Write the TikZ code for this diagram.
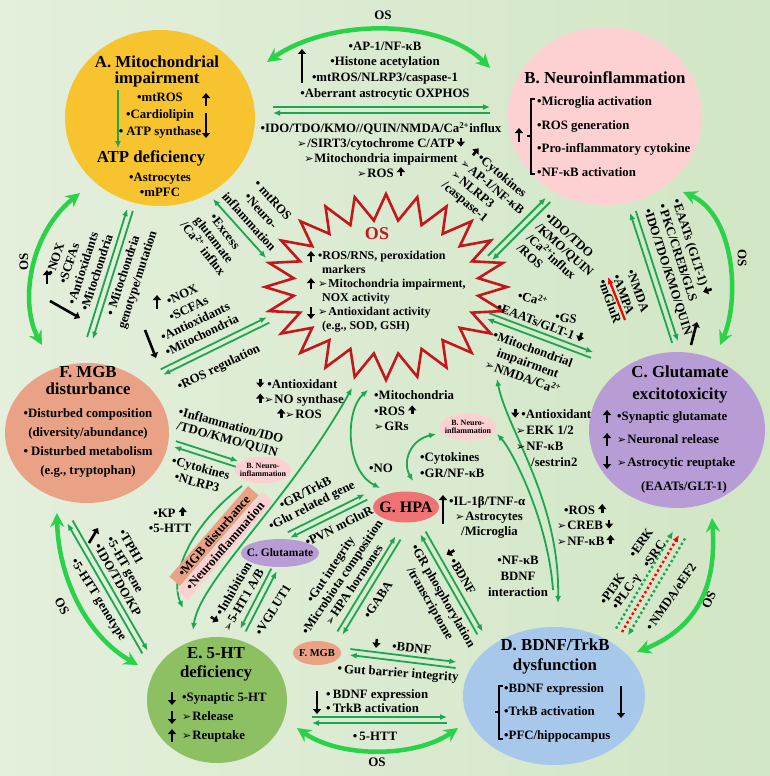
\documentclass[tikz,border=0pt]{standalone}
\usepackage{fontspec}
\setmainfont{Liberation Serif}
\newfontfamily\symfont{DejaVu Sans}
\usetikzlibrary{arrows.meta,calc,positioning,shapes.geometric}

\definecolor{bgl}{HTML}{E4EFDC}
\definecolor{bgr}{HTML}{D1E6C5}
\definecolor{osgreen}{HTML}{2AD24A}
\definecolor{lkgreen}{HTML}{1CA651}
\definecolor{mitoY}{HTML}{F7C42F}
\definecolor{neuroP}{HTML}{FDD0D1}
\definecolor{gluV}{HTML}{B89CD6}
\definecolor{bdnfB}{HTML}{A7C7EB}
\definecolor{htG}{HTML}{8DC063}
\definecolor{mgbS}{HTML}{E9A285}
\definecolor{hpaR}{HTML}{F07373}
\definecolor{starR}{HTML}{C4161C}

\tikzset{
  txt/.style={font=\bfseries\fontsize{12.8}{#1}\selectfont, inner sep=0pt, align=center},
  txt/.default=15,
  ttl/.style={font=\bfseries\fontsize{16.8}{#1}\selectfont, inner sep=0pt, align=center},
  ttl/.default=17,
  smalltxt/.style={font=\bfseries\fontsize{8}{8.6}\selectfont, inner sep=0pt, align=center},
  oslabel/.style={font=\bfseries\fontsize{13}{13}\selectfont, inner sep=0pt},
  hub/.style={ellipse, inner sep=0pt},
  os/.style={draw=osgreen, line width=4.5pt, arrows={Stealth[length=14pt,width=14pt]-Stealth[length=14pt,width=14pt]}},
  lk/.style={draw=lkgreen, line width=1.8pt},
  fwdtip/.style={-{Latex[length=7pt,width=6pt]}},
  twotip/.style={{Latex[length=7pt,width=6pt]}-{Latex[length=7pt,width=6pt]}},
  blk/.style={draw=black, line width=2.6pt, -{Triangle[length=5pt,width=8pt]}},
  dotline/.style={line width=2.4pt, dash pattern=on 2.4pt off 2.6pt},
}

\newcommand{\uparr}[1][9pt]{\tikz[baseline=-1pt]\draw[blk](0pt,0pt)--(0pt,#1);}
\newcommand{\dnarr}[1][9pt]{\tikz[baseline=-1pt]\draw[blk](0pt,#1)--(0pt,0pt);}
\newcommand{\arrbul}{{\symfont\fontsize{11}{11}\selectfont ➢}\kern1pt}
% two parallel links, one each way
\newcommand{\pairlink}[2]{%
  \draw[lk,fwdtip] ($(#1)!3pt!90:(#2)$) -- ($(#2)!3pt!-90:(#1)$);
  \draw[lk,fwdtip] ($(#2)!3pt!90:(#1)$) -- ($(#1)!3pt!-90:(#2)$);}
\newcommand{\pairlinkb}[2]{%
  \draw[lk,fwdtip] ($(#1)!3pt!-90:(#2)$) -- ($(#2)!3pt!90:(#1)$);
  \draw[lk,fwdtip] ($(#2)!3pt!-90:(#1)$) -- ($(#1)!3pt!90:(#2)$);}

\begin{document}
\begin{tikzpicture}[x=1pt,y=-1pt]
\useasboundingbox (0,0) rectangle (770,776);
\shade[left color=bgl,right color=bgr] (0,0) rectangle (770,776);

% hubs
\node[hub,fill=mitoY,minimum width=190pt,minimum height=176pt] (A) at (160,118) {};
\node[hub,fill=neuroP,minimum width=194pt,minimum height=178pt] (B) at (605,116) {};
\node[hub,fill=gluV,minimum width=176pt,minimum height=156pt] (C) at (677,430) {};
\node[hub,fill=bdnfB,minimum width=182pt,minimum height=138pt] (D) at (554,696) {};
\node[hub,fill=htG,minimum width=140pt,minimum height=126pt] (E) at (217,700) {};
\node[hub,fill=mgbS,minimum width=164pt,minimum height=140pt] (F) at (87,433) {};

% OS burst
\coordinate (S) at (386,287);
\draw[starR,line width=2.6pt,line join=miter,miter limit=10]
  plot[samples at={0,...,47}] ({386+(121-28*mod(\x,2))*cos(7.5*\x)},{287+(93-26*mod(\x,2))*sin(7.5*\x)}) -- cycle;

% end points
\coordinate (osab1) at (267,62);  \coordinate (osab2) at (490,68);
\coordinate (abA) at (273,110);   \coordinate (abB) at (490,110);
\coordinate (osaf1) at (80,193);  \coordinate (osaf2) at (42,345);
\coordinate (afF) at (90,338);    \coordinate (afA) at (130,210);
\coordinate (asA) at (213,199);   \coordinate (asS) at (266,258);
\coordinate (fsF) at (162,372);   \coordinate (fsS) at (268,320);
\coordinate (fbF) at (175,444);   \coordinate (fbB) at (237,464);
\coordinate (bsE1) at (242,486);  \coordinate (bsE2) at (183,608);
\coordinate (seE) at (193,630);   \coordinate (seS) at (352,388);
\coordinate (shS) at (368,390);   \coordinate (shG) at (380,488);
\coordinate (bhB) at (436,434);   \coordinate (bhG) at (413,481);
\coordinate (ghC) at (289,535);   \coordinate (ghG) at (366,497);
\coordinate (hmF) at (340,633);   \coordinate (hmG) at (398,538);
\coordinate (hdD) at (480,633);   \coordinate (hdG) at (423,533);
\coordinate (geC) at (274,570);   \coordinate (geE) at (243,630);
\coordinate (efE) at (145,652);   \coordinate (efF) at (70,522);
\coordinate (oef1) at (57,513);   \coordinate (oef2) at (138,665);
\coordinate (edE) at (312,720);   \coordinate (edD) at (447,720);
\coordinate (ode1) at (297,728);  \coordinate (ode2) at (458,728);
\coordinate (mdF) at (350,652);   \coordinate (mdD) at (456,665);
\coordinate (bsS) at (490,258);   \coordinate (bsB) at (548,200);
\coordinate (bcC) at (675,342);   \coordinate (bcB) at (633,212);
\coordinate (csS) at (488,316);   \coordinate (csC) at (592,355);
\coordinate (sdS) at (497,379);   \coordinate (sdD) at (558,603);
\coordinate (bdB) at (497,434);   \coordinate (bdD) at (553,590);
\coordinate (obc1) at (683,192);  \coordinate (obc2) at (720,345);
\coordinate (ocd1) at (712,518);  \coordinate (ocd2) at (637,652);
\coordinate (dg1D) at (616,628.5); \coordinate (dg1C) at (673,531.5);
\coordinate (drD) at (622,632);   \coordinate (drC) at (679,535);
\coordinate (dg2C) at (685,538.5); \coordinate (dg2D) at (628,635.5);
\coordinate (rgA) at (625,320);   \coordinate (rgB) at (608,277);
\coordinate (aIn) at (118,90);    \coordinate (aOut) at (118,148);

% OS ring
\draw[os] (osab1) .. controls (330,18) and (440,18) .. (osab2);
\draw[os] (osaf1) .. controls (28,235) and (20,305) .. (osaf2);
\draw[os] (obc1) .. controls (735,215) and (740,300) .. (obc2);
\draw[os] (ocd1) .. controls (716,575) and (705,625) .. (ocd2);
\draw[os] (ode1) .. controls (340,758) and (415,758) .. (ode2);
\draw[os] (oef1) .. controls (58,575) and (85,635) .. (oef2);
\node[oslabel] (osAB) at (383,15) {OS};
\node[oslabel,rotate=90] (osAF) at (24,262) {OS};
\node[oslabel,rotate=-90] (osBC) at (742,258) {OS};
\node[oslabel,rotate=65] (osCD) at (709,600) {OS};
\node[oslabel] (osDE) at (377,762) {OS};
\node[oslabel,rotate=-62] (osEF) at (62,606) {OS};

% links
\pairlink{abA}{abB}
\pairlink{afF}{afA}
\pairlink{fsF}{fsS}
\pairlink{fbF}{fbB}
\pairlink{ghC}{ghG}
\pairlink{hmF}{hmG}
\pairlink{hdD}{hdG}
\pairlinkb{geC}{geE}
\pairlink{efE}{efF}
\pairlink{edE}{edD}
\pairlink{mdF}{mdD}
\pairlink{bsS}{bsB}
\pairlink{bcC}{bcB}
\pairlink{csS}{csC}
\draw[lk,fwdtip] (aIn) -- (aOut);
\draw[lk,twotip] (asA) -- (asS);
\draw[lk,fwdtip] (bsE1) .. controls (185,530) and (170,580) .. (bsE2);
\draw[lk,twotip] (seE) .. controls (200,580) and (290,500) .. (seS);
\draw[lk,twotip] (shS) .. controls (345,410) and (345,470) .. (shG);
\draw[lk,twotip] (bhB) .. controls (410,440) and (402,462) .. (bhG);
\draw[lk,twotip] (sdS) .. controls (507,430) and (560,500) .. (sdD);
\draw[lk,fwdtip] (bdD) .. controls (548,520) and (512,450) .. (bdB);
\draw[dotline,lkgreen,fwdtip] (dg1D) -- (dg1C);
\draw[dotline,red,fwdtip] (drD) -- (drC);
\draw[dotline,lkgreen,fwdtip] (dg2C) -- (dg2D);
\draw[red,line width=2.2pt,fwdtip] (rgA) -- (rgB);

% small hubs
\node[hub,fill=hpaR,minimum width=66pt,minimum height=31pt] (G) at (406,507) {};
\node[hub,fill=neuroP,minimum width=56pt,minimum height=27pt] (Bs1) at (468,427) {};
\node[hub,fill=neuroP,minimum width=56pt,minimum height=27pt] (Bs2) at (263,470) {};
\node[hub,fill=gluV,minimum width=78pt,minimum height=28pt] (Cs) at (280,553) {};
\node[hub,fill=mgbS,minimum width=48pt,minimum height=24pt] (Fs) at (317,653) {};

% hub texts
\node[ttl=16] (Ahead) at (157,71) {A. Mitochondrial\\impairment};
\node[txt=17] (Alist) at (160,116) {•mtROS\\•Cardiolipin\\• ATP synthase};
\node[ttl] (Atp) at (151,158) {ATP deficiency};
\node[txt=15] (Asite) at (160,184.5) {•Astrocytes\\•mPFC};
\draw[blk] (206,106) -- (206,93);
\draw[blk] (206,113) -- (206,138);

\node[ttl] (Bhead) at (605,78) {B. Neuroinflammation};
\node[txt=23.5,align=left,anchor=west] (Blist) at (537,136.5) {•Microglia activation\\•ROS generation\\•Pro-inflammatory cytokine\\•NF-κB activation};
\draw[line width=1.3pt] (535,99) -- (531,99) -- (531,174) -- (535,174);
\draw[line width=1.3pt] (531,136) -- (527,136);
\draw[blk] (519,142) -- (519,128);

\node[ttl=22] (Chead) at (680,384) {C. Glutamate\\excitotoxicity};
\node[txt=23,align=left,anchor=west] (Clist) at (617,440) {•Synaptic glutamate\\\arrbul Neuronal release\\\arrbul Astrocytic reuptake};
\node[txt] (Cnote) at (684,487) {(EAATs/GLT-1)};
\draw[blk] (607,423) -- (607,410);
\draw[blk] (607,446) -- (607,433);
\draw[blk] (607,456) -- (607,469);

\node[ttl=19.5] (Dhead) at (555,656.5) {D. BDNF/TrkB\\dysfunction};
\node[txt=23.5,align=left,anchor=west] (Dlist) at (504,712.5) {•BDNF expression\\•TrkB activation\\•PFC/hippocampus};
\draw[line width=1.3pt] (503,686) -- (499,686) -- (499,739) -- (503,739);
\draw[line width=1.3pt] (499,712) -- (495,712);
\draw[blk] (621,686) -- (621,718);

\node[ttl=19] (Ehead) at (216,664.5) {E. 5-HT\\deficiency};
\node[txt=19,align=left,anchor=west] (Elist) at (182,717) {•Synaptic 5-HT\\\arrbul Release\\\arrbul Reuptake};
\draw[blk] (172,692) -- (172,705);
\draw[blk] (172,711) -- (172,724);
\draw[blk] (172,742) -- (172,729);

\node[ttl=17] (Fhead) at (88,380.5) {F. MGB\\disturbance};
\node[txt=19] (Flist) at (88,442.5) {•Disturbed composition\\(diversity/abundance)\\• Disturbed metabolism\\(e.g., tryptophan)};

\node[font=\bfseries\fontsize{16}{16}\selectfont] (Gtxt) at (G) {G. HPA};
\node[smalltxt] (Bs1txt) at (Bs1) {B. Neuro-\\inflammation};
\node[smalltxt] (Bs2txt) at (Bs2) {B. Neuro-\\inflammation};
\node[font=\bfseries\fontsize{11.5}{12}\selectfont] (Cstxt) at (Cs) {C. Glutamate};
\node[font=\bfseries\fontsize{10.5}{11}\selectfont] (Fstxt) at (Fs) {F. MGB};
\node[txt,fill=mgbS,rotate=49,minimum width=120pt,minimum height=14pt] (mgbbox) at (214,536) {•MGB disturbance};
\node[txt,fill=neuroP,rotate=49,minimum width=130pt,minimum height=14pt] (neubox) at (225,546) {•Neuroinflammation};

% burst text
\node[font=\bfseries\fontsize{18}{18}\selectfont,text=starR] (OS) at (377,234) {OS};
\node[font=\bfseries\fontsize{12}{14}\selectfont,align=left,anchor=west,inner sep=0pt] (Slist) at (318,292)
  {•ROS/RNS, peroxidation\\\hspace*{4pt}markers\\\arrbul Mitochondria impairment,\\\hspace*{4pt}NOX activity\\\arrbul Antioxidant activity\\\hspace*{4pt}(e.g., SOD, GSH)};
\draw[blk] (311,262) -- (311,251);
\draw[blk] (311,289) -- (311,278);
\draw[blk] (311,307) -- (311,319);

% link labels
\node[txt=15.7] (abU) at (385,71) {•AP-1/NF-κB\\•Histone acetylation\\•mtROS/NLRP3/caspase-1\\•Aberrant astrocytic OXPHOS};
\draw[blk] (302,83) -- (302,49);
\node[txt=14.7] (abD) at (381,150) {•IDO/TDO/KMO//QUIN/NMDA/Ca\textsuperscript{2+}influx\\\arrbul /SIRT3/cytochrome C/ATP\,\dnarr\\\arrbul Mitochondria impairment\\\arrbul ROS \uparr};

\node[txt=14.5,rotate=72] (afL) at (76,266) {•NOX\\•SCFAs\\•Antioxidants\\•Mitochondria};
\draw[blk] (47,284) -- (47,270);
\draw[blk] (50,301) -- (80,318);
\node[txt=15,rotate=72] (afR) at (131,278) {• Mitochondria\\genotype/mutation};

\node[txt=16,rotate=-48] (asU) at (261,211) {• mtROS\\•Neuro-\\inflammation};
\node[txt=14,rotate=-52] (asL) at (214,240) {•Excess\\glutamate\\/Ca\textsuperscript{2+} influx};

\node[txt=15,rotate=26] (fsU) at (192,315) {•NOX\\•SCFAs\\•Antioxidants\\•Mitochondria};
\draw[blk] (157,309) -- (157,295);
\draw[blk] (145,330) -- (156,358);
\node[txt,rotate=26] (fsD) at (219,368) {•ROS regulation};

\node[txt=14,rotate=-15] (fbU) at (229,433) {•Inflammation/IDO\\/TDO/KMO/QUIN};
\node[txt=15,rotate=-15] (fbD) at (199,475) {•Cytokines\\•NLRP3};
\node[txt=15] (kp) at (170,519) {•KP \uparr\\•5-HTT};

\node[txt=15,align=left,anchor=west] (seLab) at (256,398) {\dnarr\ •Antioxidant\\\uparr\arrbul NO synthase\\\hspace*{21pt}\uparr\arrbul ROS};
\node[txt] (noLab) at (381,468) {•NO};
\node[txt=15.5,align=left,anchor=west] (shLab) at (374,411) {•Mitochondria\\•ROS \uparr\\\arrbul GRs};
\node[txt=16,align=left,anchor=west] (bhLab) at (420,465) {•Cytokines\\•GR/NF-κB};
\node[txt=15,align=left,anchor=west] (hpaLab) at (449,517) {•IL-1β/TNF-α\\\hspace*{6pt}\arrbul Astrocytes\\\hspace*{12pt}/Microglia};
\draw[blk] (443,524) -- (443,495);

\node[txt=14,rotate=27] (ghU) at (309,500) {•GR/TrkB\\•Glu related gene};
\node[txt,rotate=27] (ghD) at (339,526) {•PVN mGluR};
\node[txt=14,rotate=56] (hmL) at (342,577) {•Gut integrity\\•Microbiota composition\\\arrbul HPA hormones};
\node[txt,rotate=56] (gaba) at (378,600) {•GABA};
\node[txt=15,rotate=-60] (hdL) at (436,600) {•GR phosphorylation\\/transcriptome};
\node[txt,rotate=-60] (hdR) at (461,571) {\dnarr\ •BDNF};

\node[txt=14,rotate=60] (geL) at (236,596) {\dnarr\,•Inhibition\\\arrbul 5-HT1 A/B};
\node[txt,rotate=58] (geR) at (273,610) {•VGLUT1};
\node[txt=14,rotate=-60,align=left] (efR) at (130,573) {•TPH1\\•5-HT gene\\•IDO/TDO/KP};
\draw[blk] (89,543) -- (98,528);
\node[txt,rotate=-58] (efL) at (98,600) {•5-HTT genotype};

\node[txt=14,align=left,anchor=west] (edU) at (326,701) {•\,BDNF expression\\•\,TrkB activation};
\draw[blk] (317,691) -- (317,714);
\node[txt] (edLab) at (375,736) {•\,5-HTT};
\node[txt,rotate=-6] (mdU) at (402,646) {\dnarr\hspace{12pt}•BDNF};
\node[txt,rotate=-4] (mdLab) at (398,674) {•\,Gut barrier integrity};

\node[txt=14.5,rotate=-40,align=left] (bsU) at (488,192) {\uparr\,•Cytokines\\\arrbul AP-1/NF-κB\\\arrbul NLRP3\\/caspase-1};
\node[txt=14,rotate=-42,align=left] (bsD) at (560,255) {•IDO/TDO\\/KMO/QUIN\\/Ca\textsuperscript{2+}influx\\/ROS};

\node[txt=15,rotate=-72,align=left] (bcR) at (683,267) {•EAATs (GLT-1)\,\dnarr\\•\,PKC/CREB/GLS\\•IDO/TDO/KMO/QUIN};
\draw[blk] (691,345) -- (697,322);
\node[txt=15,rotate=-70,align=left] (bcL) at (624,296) {•NMDA\\•AMPA\\•mGluR};

\node[txt,rotate=-15] (csA) at (533,298) {•Ca\textsuperscript{2+}};
\node[txt,rotate=-10] (csB) at (566,318) {•GS};
\node[txt,rotate=-21] (csU) at (541,322) {•EAATs/GLT-1\,\dnarr};
\node[txt=15,rotate=-20] (csD) at (528,363) {•Mitochondrial\\impairment\\\arrbul NMDA/Ca\textsuperscript{2+}};

\node[txt=16,align=left,anchor=west] (sdLab) at (511,437) {\dnarr\,•Antioxidant\\\hspace*{5pt}\arrbul ERK 1/2\\\hspace*{5pt}\arrbul NF-κB\\\hspace*{20pt}/sestrin2};
\node[txt=15.5,align=left,anchor=west] (creb) at (557,524) {\hspace*{7pt}•ROS \uparr\\\arrbul CREB\,\dnarr\\\arrbul NF-κB\,\uparr};
\node[txt=16] (inter) at (518,576) {•NF-κB\\BDNF\\interaction};

\node[txt,rotate=55] (pi3k) at (612,589) {•PI3K};
\node[txt,rotate=55] (plc) at (627,592) {•PLC-γ};
\node[txt,rotate=55] (erk) at (641,543) {•ERK};
\node[txt,rotate=55] (src) at (654,554) {•SRC};
\node[txt,rotate=55] (eef) at (671,597) {•\,NMDA/eEF2};
\end{tikzpicture}
\end{document}
